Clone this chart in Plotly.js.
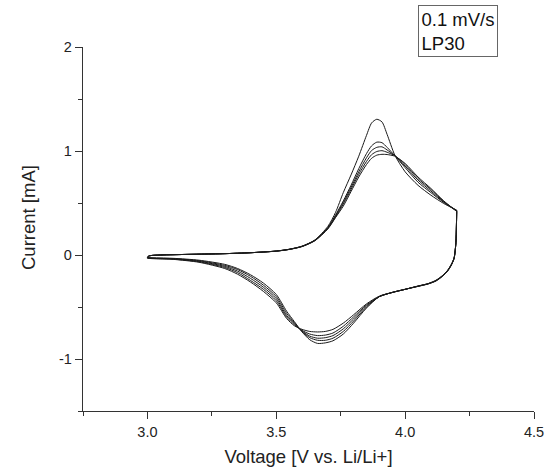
<!DOCTYPE html>
<html>
<head>
<meta charset="utf-8">
<script src="https://cdn.plot.ly/plotly-3.0.1.min.js"></script>
<style>html,body{margin:0;padding:0;background:#fff;}#chart{width:548px;height:471px;}</style>
</head>
<body>
<div id="chart"></div>
<script>
// Anodic sweep voltages (3.0 V -> 4.2 V)
const anodicV = [3.00, 3.005, 3.05, 3.10, 3.20, 3.30, 3.40, 3.50, 3.55, 3.60, 3.65, 3.70, 3.73, 3.76, 3.79, 3.82, 3.85, 3.87, 3.89, 3.91, 3.93, 3.96, 4.00, 4.05, 4.10, 4.15, 4.20];
// Cathodic sweep voltages (4.2 V -> 3.0 V)
const cathodicV = [4.20, 4.199, 4.197, 4.19, 4.18, 4.165, 4.145, 4.12, 4.09, 4.05, 4.00, 3.95, 3.90, 3.85, 3.80, 3.76, 3.72, 3.69, 3.66, 3.63, 3.60, 3.57, 3.54, 3.50, 3.45, 3.40, 3.35, 3.30, 3.20, 3.10, 3.00];

// Anodic currents [mA], cycles 1..5
const anodicI1 = [-0.030, -0.010, 0.000, 0.003, 0.008, 0.013, 0.022, 0.038, 0.055, 0.085, 0.145, 0.275, 0.410, 0.600, 0.770, 0.950, 1.150, 1.270, 1.305, 1.280, 1.160, 0.960, 0.800, 0.670, 0.575, 0.495, 0.430];
const anodicI2 = [-0.026, -0.010, 0.000, 0.003, 0.008, 0.013, 0.022, 0.038, 0.055, 0.084, 0.143, 0.265, 0.385, 0.520, 0.670, 0.830, 0.975, 1.050, 1.085, 1.080, 1.035, 0.955, 0.840, 0.700, 0.600, 0.505, 0.430];
const anodicI3 = [-0.027, -0.010, 0.000, 0.003, 0.008, 0.013, 0.022, 0.038, 0.054, 0.083, 0.141, 0.260, 0.375, 0.505, 0.650, 0.800, 0.935, 1.005, 1.035, 1.040, 1.010, 0.955, 0.855, 0.720, 0.615, 0.510, 0.425];
const anodicI4 = [-0.028, -0.010, 0.000, 0.003, 0.008, 0.013, 0.022, 0.037, 0.054, 0.082, 0.139, 0.255, 0.365, 0.490, 0.630, 0.775, 0.900, 0.965, 0.995, 1.003, 0.988, 0.955, 0.870, 0.735, 0.630, 0.515, 0.420];
const anodicI5 = [-0.029, -0.010, 0.000, 0.003, 0.008, 0.013, 0.022, 0.037, 0.053, 0.081, 0.137, 0.250, 0.360, 0.470, 0.610, 0.750, 0.870, 0.930, 0.960, 0.968, 0.966, 0.950, 0.880, 0.750, 0.640, 0.520, 0.420];

// Cathodic currents [mA], cycles 1..5
const cathodicI1 = [0.430, 0.280, 0.120, -0.030, -0.095, -0.155, -0.205, -0.250, -0.278, -0.302, -0.330, -0.360, -0.400, -0.510, -0.655, -0.760, -0.825, -0.845, -0.850, -0.815, -0.740, -0.640, -0.540, -0.380, -0.270, -0.190, -0.130, -0.090, -0.050, -0.032, -0.025];
const cathodicI2 = [0.430, 0.280, 0.120, -0.030, -0.092, -0.152, -0.203, -0.248, -0.277, -0.301, -0.330, -0.360, -0.400, -0.500, -0.635, -0.735, -0.800, -0.820, -0.820, -0.795, -0.735, -0.650, -0.560, -0.400, -0.290, -0.205, -0.140, -0.100, -0.055, -0.035, -0.026];
const cathodicI3 = [0.425, 0.280, 0.120, -0.030, -0.090, -0.150, -0.201, -0.246, -0.276, -0.300, -0.330, -0.360, -0.400, -0.490, -0.615, -0.710, -0.775, -0.795, -0.800, -0.780, -0.730, -0.660, -0.580, -0.420, -0.310, -0.225, -0.155, -0.110, -0.060, -0.037, -0.027];
const cathodicI4 = [0.420, 0.280, 0.120, -0.030, -0.088, -0.148, -0.199, -0.244, -0.275, -0.299, -0.330, -0.360, -0.400, -0.480, -0.595, -0.685, -0.750, -0.770, -0.775, -0.760, -0.725, -0.670, -0.595, -0.440, -0.330, -0.245, -0.170, -0.120, -0.065, -0.040, -0.028];
const cathodicI5 = [0.420, 0.280, 0.120, -0.030, -0.086, -0.146, -0.197, -0.242, -0.274, -0.298, -0.330, -0.360, -0.395, -0.470, -0.575, -0.655, -0.715, -0.735, -0.740, -0.735, -0.715, -0.680, -0.610, -0.460, -0.350, -0.260, -0.185, -0.130, -0.070, -0.042, -0.030];

const xTickVals = [3.0, 3.5, 4.0, 4.5];
const xTickText = ['3.0', '3.5', '4.0', '4.5'];
const yTickVals = [-1, 0, 1, 2];
const yTickText = ['-1', '0', '1', '2'];
const xTitle = 'Voltage [V vs. Li/Li+]';
const yTitle = 'Current [mA]';
const legendLines = ['0.1 mV/s', 'LP30'];

const anodicSets = [anodicI1, anodicI2, anodicI3, anodicI4, anodicI5];
const cathodicSets = [cathodicI1, cathodicI2, cathodicI3, cathodicI4, cathodicI5];

const traces = anodicSets.map((a, i) => ({
  type: 'scatter',
  mode: 'lines',
  x: anodicV.concat(cathodicV),
  y: a.concat(cathodicSets[i]),
  line: {color: '#1a1a1a', width: 1, shape: 'spline', smoothing: 0.7},
  showlegend: false,
  hoverinfo: 'skip',
  name: 'Cycle ' + (i + 1)
}));

const fontFam = '"Liberation Sans", Arial, sans-serif';

const layout = {
  width: 548,
  height: 471,
  margin: {l: 83, r: 14, t: 47, b: 60},
  paper_bgcolor: '#fff',
  plot_bgcolor: '#fff',
  font: {family: fontFam, color: '#222', size: 14},
  showlegend: false,
  xaxis: {
    range: [2.75, 4.5],
    tickmode: 'array',
    tickvals: xTickVals,
    ticktext: xTickText,
    ticks: 'outside',
    ticklen: 7,
    tickwidth: 1,
    tickcolor: '#333',
    showline: true,
    linecolor: '#333',
    linewidth: 1.3,
    showgrid: false,
    zeroline: false,
    tickfont: {family: fontFam, size: 14.5, color: '#222'},
    minor: {tickmode: 'array', tickvals: [2.75, 3.25, 3.75, 4.25], ticks: 'outside', ticklen: 4, tickwidth: 1, tickcolor: '#333', showgrid: false},
    title: {text: xTitle, font: {family: fontFam, size: 18.5, color: '#222'}, standoff: 11}
  },
  yaxis: {
    range: [-1.5, 2],
    tickmode: 'array',
    tickvals: yTickVals,
    ticktext: yTickText,
    ticks: 'outside',
    ticklen: 7,
    tickwidth: 1,
    tickcolor: '#333',
    showline: true,
    linecolor: '#333',
    linewidth: 1.3,
    showgrid: false,
    zeroline: false,
    tickfont: {family: fontFam, size: 14.5, color: '#222'},
    minor: {tickmode: 'array', tickvals: [-1.5, -0.5, 0.5, 1.5], ticks: 'outside', ticklen: 4, tickwidth: 1, tickcolor: '#333', showgrid: false}
  },
  annotations: [{
    xref: 'paper', yref: 'paper',
    x: (418 - 83) / 451, y: (411 - 5) / 364,
    xanchor: 'left', yanchor: 'top',
    text: legendLines.join('<br>'),
    align: 'left',
    showarrow: false,
    font: {family: fontFam, size: 18.5, color: '#111'},
    bordercolor: '#666',
    borderwidth: 1,
    borderpad: 2.5,
    bgcolor: '#fff'
  }, {
    xref: 'paper', yref: 'paper',
    x: (28 - 83) / 451, y: (411 - 218) / 364,
    xanchor: 'center', yanchor: 'middle',
    text: yTitle,
    textangle: -90,
    showarrow: false,
    font: {family: fontFam, size: 18.5, color: '#222'}
  }]
};

Plotly.newPlot('chart', traces, layout, {displayModeBar: false, staticPlot: true});
</script>
</body>
</html>
